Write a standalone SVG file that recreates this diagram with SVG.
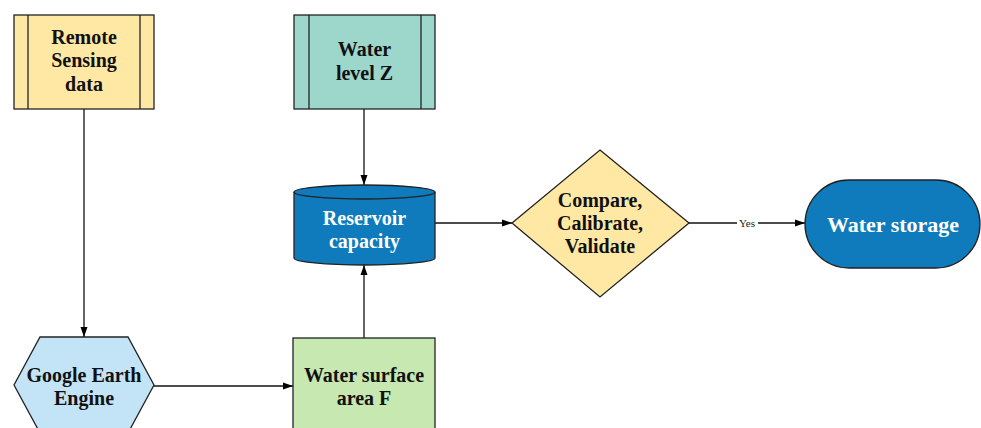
<svg xmlns="http://www.w3.org/2000/svg" width="981" height="428" viewBox="0 0 981 428">
<defs>
<marker id="arr" viewBox="0 0 10 10" refX="10" refY="5" markerWidth="10" markerHeight="10" markerUnits="userSpaceOnUse" orient="auto">
<path d="M0,1.5 L10,5 L0,8.5 Z" fill="#000"/>
</marker>
<style>
.n{stroke:#222;stroke-width:1.3}
.t{font-family:"Liberation Serif","Times New Roman",serif;font-weight:bold;font-size:20px;fill:#111;text-anchor:middle}
.w{fill:#fff}
.e{fill:none;stroke:#111;stroke-width:1.3}
</style>
</defs>
<rect width="981" height="428" fill="#fff"/>
<g id="connectors">
<line class="e" x1="84" y1="109" x2="84" y2="337" marker-end="url(#arr)"/>
<line class="e" x1="364" y1="109" x2="364" y2="185" marker-end="url(#arr)"/>
<line class="e" x1="364" y1="338" x2="364" y2="265" marker-end="url(#arr)"/>
<line class="e" x1="154" y1="386" x2="293" y2="386" marker-end="url(#arr)"/>
<line class="e" x1="435" y1="223" x2="512" y2="223" marker-end="url(#arr)"/>
<line class="e" x1="689" y1="223" x2="805" y2="223" marker-end="url(#arr)"/>
<rect x="737" y="217" width="21" height="12" fill="#fff"/>
<text x="747" y="227" style="font-family:'Liberation Serif',serif;font-size:11px;fill:#222;text-anchor:middle">Yes</text>
</g>
<g id="remote-sensing">
<rect class="n" x="14" y="15" width="140" height="94" fill="#FFE8A3"/>
<line class="n" x1="28" y1="15" x2="28" y2="109"/>
<line class="n" x1="140" y1="15" x2="140" y2="109"/>
<text class="t" x="84" y="44">Remote</text>
<text class="t" x="84" y="67">Sensing</text>
<text class="t" x="84" y="91">data</text>
</g>
<g id="water-level">
<rect class="n" x="294" y="15" width="141" height="94" fill="#9DD6CB"/>
<line class="n" x1="309" y1="15" x2="309" y2="109"/>
<line class="n" x1="421" y1="15" x2="421" y2="109"/>
<text class="t" x="364.5" y="56">Water</text>
<text class="t" x="364.5" y="80">level Z</text>
</g>
<g id="reservoir">
<path class="n" d="M294,192 L294,258 A70.5,7 0 0 0 435,258 L435,192 A70.5,7 0 0 0 294,192 Z" fill="#0F7BBC"/>
<path class="n" d="M294,192 A70.5,7 0 0 0 435,192" fill="none"/>
<text class="t w" x="364.5" y="225">Reservoir</text>
<text class="t w" x="364.5" y="248">capacity</text>
</g>
<g id="compare">
<polygon class="n" points="600,150 689,223 600,297 512,223" fill="#FFE8A3"/>
<text class="t" x="600" y="207">Compare,</text>
<text class="t" x="600" y="230">Calibrate,</text>
<text class="t" x="600" y="253">Validate</text>
</g>
<g id="water-storage">
<rect class="n" x="805" y="180" width="175" height="88" rx="44" ry="44" fill="#0F7BBC"/>
<text class="t w" x="893" y="232" style="font-size:22px">Water storage</text>
</g>
<g id="gee">
<polygon class="n" points="40,337 128,337 154,385 128,433 40,433 14,385" fill="#C3E4F7"/>
<text class="t" x="84" y="382">Google Earth</text>
<text class="t" x="84" y="405">Engine</text>
</g>
<g id="water-surface">
<rect class="n" x="293" y="338" width="142" height="100" fill="#C7E8B0"/>
<text class="t" x="364" y="382">Water surface</text>
<text class="t" x="364" y="405">area F</text>
</g>
</svg>
